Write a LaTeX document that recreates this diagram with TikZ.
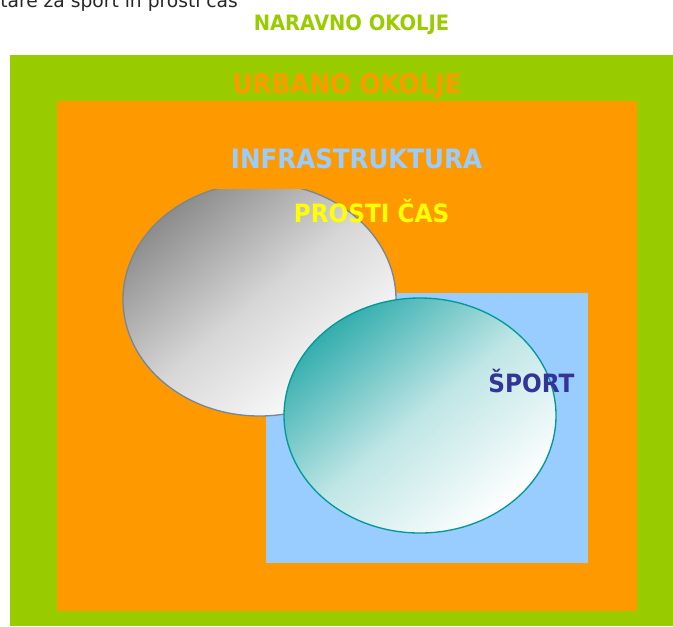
\documentclass[tikz,border=0pt]{standalone}
\usepackage{fontspec}
\setmainfont{DejaVu Sans}
\newfontfamily\ozka[FakeStretch=0.92]{DejaVu Sans}
\usepackage{tikz}

\definecolor{zelena}{RGB}{153,204,0}
\definecolor{oranzna}{RGB}{255,153,0}
\definecolor{svetlomodra}{RGB}{153,204,255}
\definecolor{rumena}{RGB}{255,255,0}
\definecolor{temnomodra}{RGB}{51,51,153}
\definecolor{turkizna}{RGB}{0,153,153}
\definecolor{siva}{RGB}{140,140,140}
\definecolor{sivarob}{RGB}{120,135,150}

\begin{document}
\begin{tikzpicture}[x=0.75pt,y=0.75pt,yscale=-1,xscale=1]
\useasboundingbox (0,0) rectangle (673,626);
\clip (0,0) rectangle (673,626);

%Shape: Rectangle [naravno okolje]
\fill [zelena] (10,55) rectangle (673,626) ;
%Shape: Rectangle [urbano okolje]
\fill [oranzna] (57,101) rectangle (637,611) ;
%Shape: Rectangle [sport]
\fill [svetlomodra] (266,293) rectangle (588,563) ;

%Shape: Ellipse [prosti cas]
\begin{scope}
\clip (0,189) rectangle (673,626) ;
\draw [draw=sivarob, line width=1, top color=siva, bottom color=white, middle color=siva!35, shading angle=40]  (259.5,299.5) ellipse (136.5 and 116.5) ;
\end{scope}
%Shape: Ellipse [sport]
\draw [draw=turkizna, line width=1, top color=turkizna!80, bottom color=white, middle color=turkizna!25, shading angle=40]  (420,415.5) ellipse (136 and 117.5) ;

% Text Node
\node (naslov) [anchor=base west, inner sep=0pt, font=\fontsize{14}{16}\selectfont, text=black!85] at (0,7) {tare za šport in prosti čas};
% Text Node
\node (naravno) [anchor=base, inner sep=0pt, font=\fontsize{15.9}{18}\ozka\bfseries, text=zelena] at (351.5,30) {NARAVNO OKOLJE};
% Text Node
\node (urbano) [anchor=base, inner sep=0pt, font=\fontsize{20.1}{24}\ozka\bfseries, text=oranzna] at (347,93) {URBANO OKOLJE};
% Text Node
\node (infra) [anchor=base, inner sep=0pt, font=\fontsize{20}{24}\ozka\bfseries, text=svetlomodra] at (356.5,168) {INFRASTRUKTURA};
% Text Node
\node (prosti) [anchor=base, inner sep=0pt, font=\fontsize{18.9}{23}\ozka\bfseries, text=rumena] at (371.5,222) {PROSTI ČAS};
% Text Node
\node (sport) [anchor=base, inner sep=0pt, font=\fontsize{18.9}{23}\ozka\bfseries, text=temnomodra] at (531.5,392) {ŠPORT};
\end{tikzpicture}
\end{document}
